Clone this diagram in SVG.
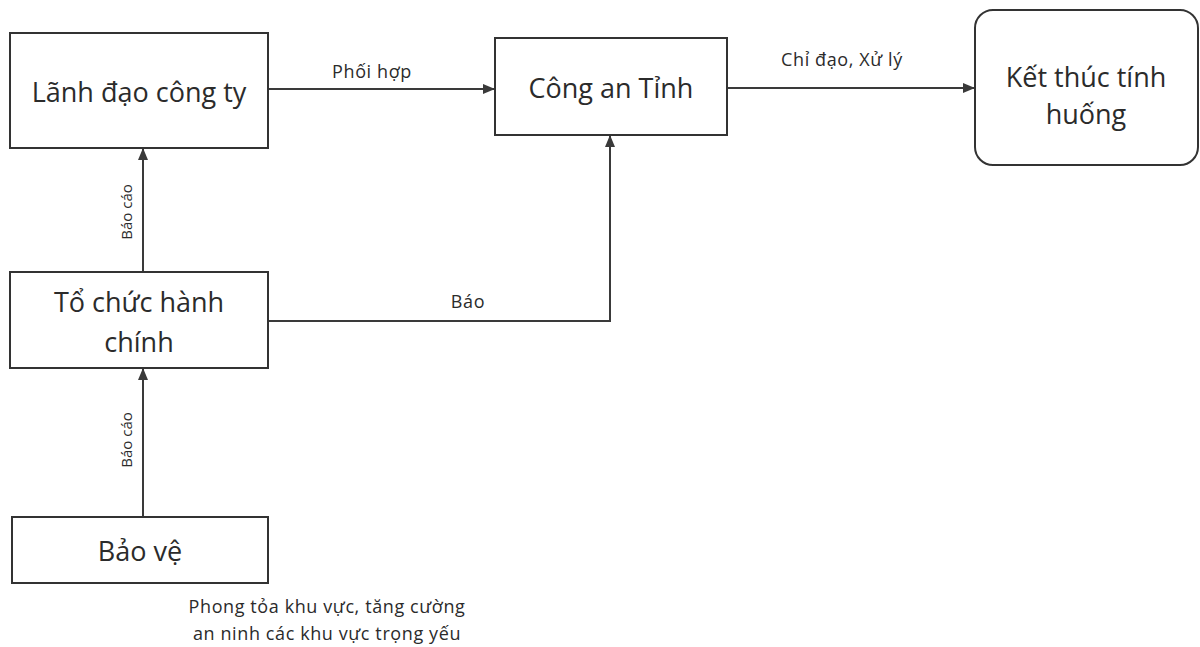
<svg xmlns="http://www.w3.org/2000/svg" width="1200" height="647" viewBox="0 0 1200 647">
<style>
.box{fill:#fff;stroke:#333;stroke-width:2}
.t{font-family:"Open Sans","Liberation Sans",sans-serif;fill:#2b2b2b;text-anchor:middle}
.big{font-size:27px}
.sm{font-size:18px;letter-spacing:0.6px}
.vs{font-size:15px}
.line{fill:none;stroke:#3a3a3a;stroke-width:2}
</style>
<defs>
<marker id="ah" markerWidth="12" markerHeight="10" refX="11" refY="5" orient="auto" markerUnits="userSpaceOnUse">
<path d="M0,0 L12,5 L0,10 Z" fill="#3a3a3a"/>
</marker>
</defs>
<rect width="1200" height="647" fill="#fff"/>
<g id="connectors">
<line class="line" x1="268" y1="89" x2="494" y2="89" marker-end="url(#ah)"/>
<text class="t sm" x="372" y="78">Phối hợp</text>
<line class="line" x1="727" y1="88" x2="974" y2="88" marker-end="url(#ah)"/>
<text class="t sm" x="842" y="66">Chỉ đạo, Xử lý</text>
<line class="line" x1="143" y1="272" x2="143" y2="149" marker-end="url(#ah)"/>
<text class="t vs" transform="translate(132,212) rotate(-90)">Báo cáo</text>
<polyline class="line" points="268,321 610,321 610,136" marker-end="url(#ah)"/>
<text class="t sm" x="468" y="308">Báo</text>
<line class="line" x1="143" y1="517" x2="143" y2="369" marker-end="url(#ah)"/>
<text class="t vs" transform="translate(132,440) rotate(-90)">Báo cáo</text>
</g>
<g id="lanh-dao">
<rect class="box" x="10" y="33" width="258" height="115"/>
<text class="t big" x="139" y="102">Lãnh đạo công ty</text>
</g>
<g id="cong-an">
<rect class="box" x="495" y="38" width="232" height="97"/>
<text class="t big" x="611" y="98">Công an Tỉnh</text>
</g>
<g id="ket-thuc">
<rect class="box" x="975" y="10" width="223" height="155" rx="18"/>
<text class="t big" x="1086" y="87">Kết thúc tính</text>
<text class="t big" x="1086" y="124">huống</text>
</g>
<g id="to-chuc">
<rect class="box" x="10" y="272" width="258" height="96"/>
<text class="t big" x="139" y="312">Tổ chức hành</text>
<text class="t big" x="139" y="352">chính</text>
</g>
<g id="bao-ve">
<rect class="box" x="12" y="517" width="256" height="66"/>
<text class="t big" x="140" y="561">Bảo vệ</text>
<text class="t sm" x="327" y="613">Phong tỏa khu vực, tăng cường</text>
<text class="t sm" x="327" y="640">an ninh các khu vực trọng yếu</text>
</g>
</svg>
